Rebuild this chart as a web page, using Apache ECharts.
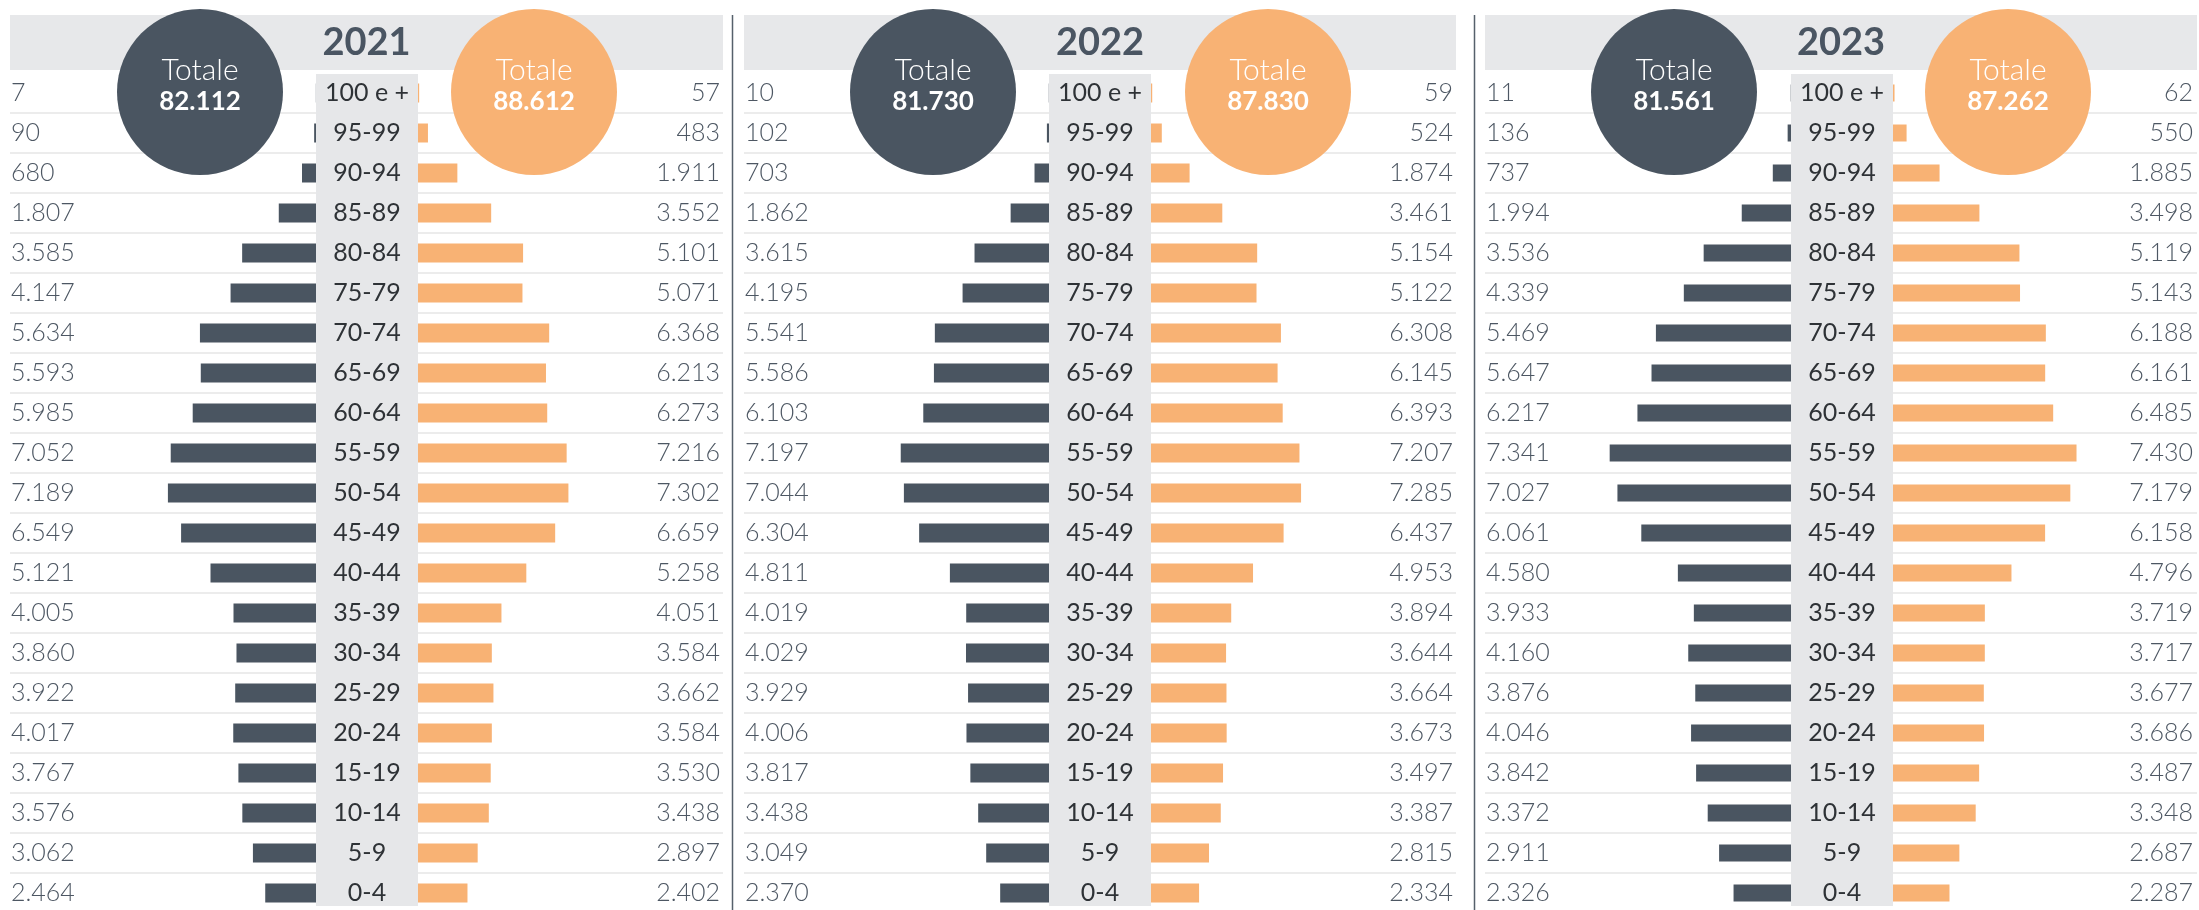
<!DOCTYPE html>
<html>
<head>
<meta charset="utf-8">
<script src="https://cdn.jsdelivr.net/npm/echarts@6/dist/echarts.min.js"></script>
<style>
  html, body { margin: 0; padding: 0; background: #fff; }
  #chart { width: 2199px; height: 910px; }
</style>
</head>
<body>
<div id="chart"></div>
<script>
const years = ['2021', '2022', '2023'];
const ages = ['100 e +', '95-99', '90-94', '85-89', '80-84', '75-79', '70-74', '65-69', '60-64', '55-59',
  '50-54', '45-49', '40-44', '35-39', '30-34', '25-29', '20-24', '15-19', '10-14', '5-9', '0-4'];

const maschi2021 = [7, 90, 680, 1807, 3585, 4147, 5634, 5593, 5985, 7052, 7189, 6549, 5121, 4005, 3860, 3922, 4017, 3767, 3576, 3062, 2464];
const femmine2021 = [57, 483, 1911, 3552, 5101, 5071, 6368, 6213, 6273, 7216, 7302, 6659, 5258, 4051, 3584, 3662, 3584, 3530, 3438, 2897, 2402];
const maschi2022 = [10, 102, 703, 1862, 3615, 4195, 5541, 5586, 6103, 7197, 7044, 6304, 4811, 4019, 4029, 3929, 4006, 3817, 3438, 3049, 2370];
const femmine2022 = [59, 524, 1874, 3461, 5154, 5122, 6308, 6145, 6393, 7207, 7285, 6437, 4953, 3894, 3644, 3664, 3673, 3497, 3387, 2815, 2334];
const maschi2023 = [11, 136, 737, 1994, 3536, 4339, 5469, 5647, 6217, 7341, 7027, 6061, 4580, 3933, 4160, 3876, 4046, 3842, 3372, 2911, 2326];
const femmine2023 = [62, 550, 1885, 3498, 5119, 5143, 6188, 6161, 6485, 7430, 7179, 6158, 4796, 3719, 3717, 3677, 3686, 3487, 3348, 2687, 2287];

const totMaschi = [82112, 81730, 81561];
const totFemmine = [88612, 87830, 87262];

const maschi = [maschi2021, maschi2022, maschi2023];
const femmine = [femmine2021, femmine2022, femmine2023];

// layout of the three panels, in px
const panels = [
  { left: 10, right: 723, boxL: 316, boxR: 418, barLen: 206, barW: 19, valL: 11, valR: 720, cM: 200, cF: 534 },
  { left: 744, right: 1456, boxL: 1049, boxR: 1151, barLen: 206, barW: 19, valL: 745, valR: 1453, cM: 933, cF: 1268 },
  { left: 1485, right: 2197, boxL: 1791, boxR: 1893, barLen: 247, barW: 17, valL: 1486, valR: 2193, cM: 1674, cF: 2008 }
];

const DARK = '#4a5561';
const ORANGE = '#f8b274';
const FONT = 'Lato';
const fmt = v => String(v).replace(/\B(?=(\d{3})+(?!\d))/g, '.');

const grid = [], xAxis = [], yAxis = [], series = [], graphic = [];
const noAxis = { axisLine: { show: false }, axisTick: { show: false }, splitLine: { show: false } };
const valueLabel = { interval: 0, color: '#4d5763', fontSize: 25, fontFamily: FONT, fontWeight: 300 };

panels.forEach((p, i) => {
  const m = maschi[i], f = femmine[i];
  const g = grid.length;
  // left bars, right bars, background rows
  grid.push({ left: p.boxL - p.barLen, top: 73, width: p.barLen, height: 840, outerBoundsMode: 'none' });
  grid.push({ left: p.boxR, top: 73, width: p.barLen, height: 840, outerBoundsMode: 'none' });
  grid.push({ left: p.left, top: 113, width: p.right - p.left, height: 760, outerBoundsMode: 'none' });

  const x = xAxis.length;
  xAxis.push({ gridIndex: g, type: 'value', min: 0, max: 10000, inverse: true, show: false });
  xAxis.push({ gridIndex: g + 1, type: 'value', min: 0, max: 10000, show: false });
  xAxis.push({ gridIndex: g + 2, type: 'value', show: false });

  const y = yAxis.length;
  yAxis.push(Object.assign({
    gridIndex: g, type: 'category', data: ages, inverse: true, position: 'left',
    axisLabel: Object.assign({}, valueLabel, {
      margin: p.boxL - p.barLen - p.valL, align: 'left',
      formatter: (v, idx) => fmt(m[idx])
    })
  }, noAxis));
  yAxis.push(Object.assign({
    gridIndex: g, type: 'category', data: ages, inverse: true, position: 'right', z: 5,
    axisLabel: {
      interval: 0, margin: (p.boxR - p.boxL) / 2, align: 'center',
      color: '#2e3236', fontSize: 25, fontFamily: FONT
    }
  }, noAxis));
  yAxis.push(Object.assign({
    gridIndex: g + 1, type: 'category', data: ages, inverse: true, position: 'right',
    axisLabel: Object.assign({}, valueLabel, {
      margin: p.valR - p.boxR - p.barLen, align: 'right',
      formatter: (v, idx) => fmt(f[idx])
    })
  }, noAxis));
  yAxis.push({
    gridIndex: g + 2, type: 'value', min: 1, max: 20, interval: 1,
    axisLine: { show: false }, axisTick: { show: false }, axisLabel: { show: false },
    splitLine: { show: true, lineStyle: { color: '#ececec', width: 2 } }
  });

  series.push({
    type: 'bar', name: 'Maschi ' + years[i], xAxisIndex: x, yAxisIndex: y, data: m,
    barWidth: p.barW, itemStyle: { color: DARK }, silent: true
  });
  series.push({
    type: 'bar', name: 'Femmine ' + years[i], xAxisIndex: x + 1, yAxisIndex: y + 2, data: f,
    barWidth: p.barW, itemStyle: { color: ORANGE }, silent: true
  });

  // header band, year, central grey column
  graphic.push({ type: 'rect', z: 0, shape: { x: p.left, y: 15, width: p.right - p.left, height: 55 }, style: { fill: '#e7e8ea' } });
  graphic.push({
    type: 'text', z: 1, x: (p.left + p.right) / 2, y: 43,
    style: { text: years[i], fill: '#4a5562', font: 'bold 38px ' + FONT, align: 'center', verticalAlign: 'middle' }
  });
  graphic.push({ type: 'rect', z: 1, shape: { x: p.boxL, y: 74, width: p.boxR - p.boxL, height: 832 }, style: { fill: '#e6e7e9' } });

  // totals
  [[p.cM, DARK, totMaschi[i]], [p.cF, ORANGE, totFemmine[i]]].forEach(([cx, col, tot]) => {
    graphic.push({ type: 'circle', z: 20, shape: { cx: cx, cy: 92, r: 83 }, style: { fill: col } });
    graphic.push({
      type: 'text', z: 21, x: cx, y: 70,
      style: { text: 'Totale', fill: '#fff', font: '300 30px ' + FONT, align: 'center', verticalAlign: 'middle' }
    });
    graphic.push({
      type: 'text', z: 21, x: cx, y: 102,
      style: { text: fmt(tot), fill: '#fff', font: 'bold 26px ' + FONT, align: 'center', verticalAlign: 'middle' }
    });
  });
});

// vertical separators between panels
[732.5, 1474.5].forEach(sx => {
  graphic.push({ type: 'line', z: 1, shape: { x1: sx, y1: 15, x2: sx, y2: 910 }, style: { stroke: '#56606b', lineWidth: 1.5 } });
});

const chart = echarts.init(document.getElementById('chart'));
chart.setOption({
  animation: false,
  textStyle: { fontFamily: FONT },
  grid: grid,
  xAxis: xAxis,
  yAxis: yAxis,
  series: series,
  graphic: graphic
});
</script>
</body>
</html>
